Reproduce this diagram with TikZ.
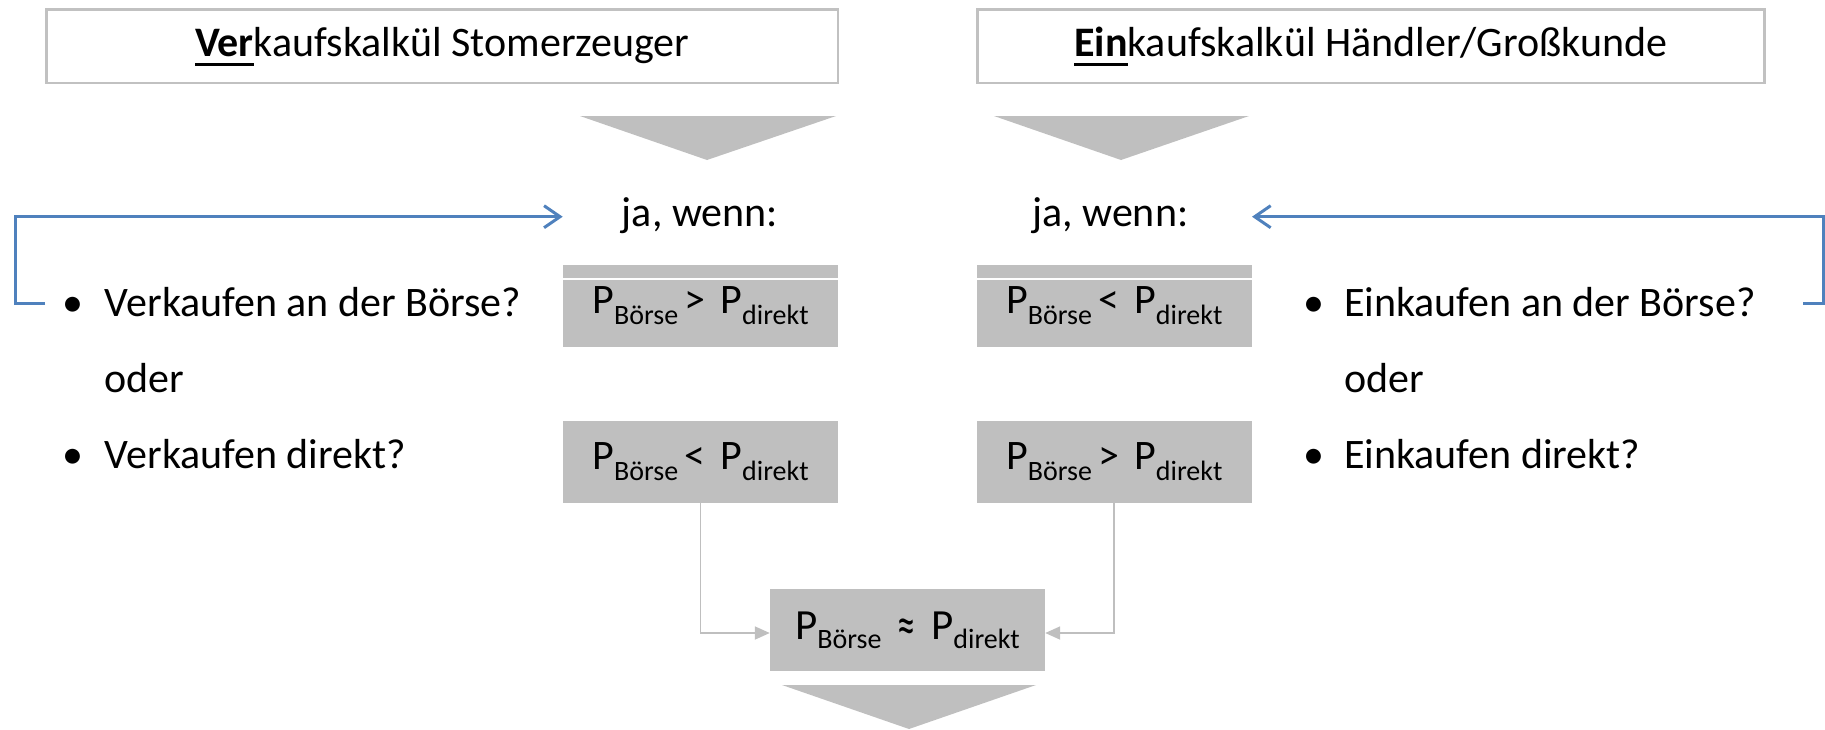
\documentclass[tikz,border=0pt]{standalone}
\usepackage{fontspec}
\usepackage{graphicx}
\setmainfont{Carlito}
\usetikzlibrary{arrows.meta}

\definecolor{boxgray}{RGB}{191,191,191}
\definecolor{framegray}{RGB}{193,193,193}
\definecolor{linkblue}{RGB}{79,129,189}

% bold, thickly underlined word start
\newcommand{\ubf}[1]{\setbox0\hbox{\bfseries #1}\rlap{\rule[-10pt]{\wd0}{3pt}}\box0}
% price symbol with lowered index: \psub{drop}{index}
\newcommand{\psub}[2]{P\raisebox{-#1}{\fontsize{28}{28}\selectfont #2}}
% tall "approximately equal" sign
\newcommand{\approxsign}{{\fontsize{36}{36}\selectfont\raisebox{-4.5pt}{\scalebox{1}[1.5]{≈}}}}

\begin{document}
\begin{tikzpicture}[x=1pt,y=-1pt,
  txt/.style={inner sep=0pt,anchor=base west,font=\fontsize{42}{50}\selectfont},
  dot/.style={inner sep=0pt,anchor=base,font=\fontsize{42}{50}\selectfont},
  titlebox/.style={draw=framegray,line width=2.7pt,fill=white,inner sep=0pt,
    minimum height=73.3pt,text height=28pt,text depth=8.7pt,
    font=\fontsize{42}{50}\selectfont},
  pbox/.style={fill=boxgray,inner sep=0pt,minimum width=275pt,minimum height=82pt,
    text height=26pt,text depth=11pt,font=\fontsize{42}{50}\selectfont},
  bluelink/.style={draw=linkblue,line width=3pt,
    -{Straight Barb[length=16pt,width=22pt,line width=3pt]}},
  graylink/.style={draw=boxgray,line width=1.8pt,
    -{Triangle[length=15pt,width=13pt]}},
  chevron/.style={fill=boxgray}
]
\useasboundingbox (0,0) rectangle (1825,729);

% header boxes
\node[titlebox,minimum width=791.7pt] (tl) at (442.2,46.35)
  {\ubf{Ver}kaufskalkül Stomerzeuger};
\node[titlebox,minimum width=787pt] (tr) at (1370.8,46.35)
  {\ubf{Ein}kaufskalkül Händler/Großkunde};

% chevrons below the headers
\fill[chevron] (580,116) -- (836,116) -- (707,160) -- cycle;
\fill[chevron] (994,116) -- (1249,116) -- (1121,160) -- cycle;

% "ja, wenn:" labels
\node[txt] (jaL) at (621.7,226.7) {ja, wenn:};
\node[txt] (jaR) at (1032,226.7) {ja, wenn:};

% seller questions
\node[dot] (lb1) at (73.3,316) {•};
\node[txt] (lq1) at (104.5,316) {Verkaufen an der Börse?};
\node[txt] (lor) at (104.5,392.3) {oder};
\node[dot] (lb2) at (73.3,468.3) {•};
\node[txt] (lq2) at (104.5,468.3) {Verkaufen direkt?};

% buyer questions
\node[dot] (rb1) at (1314,316) {•};
\node[txt] (rq1) at (1344,316) {Einkaufen an der Börse?};
\node[txt] (ror) at (1344,392.3) {oder};
\node[dot] (rb2) at (1314,468.3) {•};
\node[txt] (rq2) at (1344,468.3) {Einkaufen direkt?};

% condition boxes
\node[pbox] (L1) at (700.5,306)
  {\psub{11pt}{Börse }>\hspace{15pt}\psub{11pt}{direkt}};
\node[pbox] (L2) at (700.5,462)
  {\psub{11pt}{Börse }<\hspace{15pt}\psub{11pt}{direkt}};
\node[pbox] (R1) at (1114.25,306)
  {\psub{11pt}{Börse }<\hspace{15pt}\psub{11pt}{direkt}};
\node[pbox] (R2) at (1114.25,462)
  {\psub{11pt}{Börse }>\hspace{15pt}\psub{11pt}{direkt}};
\draw[white,line width=1.5pt] (L1.north west) ++(0,14.3) -- ++(275,0);
\draw[white,line width=1.5pt] (R1.north west) ++(0,14.3) -- ++(275,0);

% equilibrium box
\node[pbox,font=\fontsize{43}{51}\selectfont,text height=27.3pt,text depth=9.3pt]
  (M) at (907.5,630)
  {\psub{9.3pt}{Börse}\hspace{16pt}\approxsign\hspace{15.7pt}\psub{9.3pt}{direkt}\hspace{7pt}};

% final chevron
\fill[chevron] (782,685) -- (1036,685) -- (909,729) -- cycle;

% feedback arrows from the questions to the conditions
\coordinate (lstub) at (45,303);
\coordinate (lcorner) at (15,303);
\coordinate (jaLtip) at (562.7,216.7);
\draw[bluelink] (lstub) -- (lcorner) |- (jaLtip);

\coordinate (rstub) at (1803,303);
\coordinate (rcorner) at (1823.3,303);
\coordinate (jaRtip) at (1252,216.7);
\draw[bluelink] (rstub) -- (rcorner) |- (jaRtip);

% both "else" conditions lead to the equilibrium
\draw[graylink] (L2.south) |- ([yshift=-3pt]M.west);
\draw[graylink] (R2.south) |- ([yshift=-3pt]M.east);
\end{tikzpicture}
\end{document}
